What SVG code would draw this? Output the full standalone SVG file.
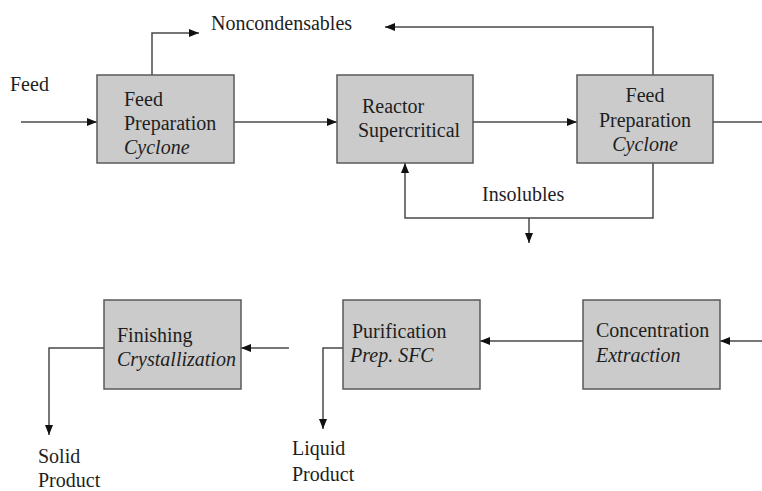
<svg xmlns="http://www.w3.org/2000/svg" width="762" height="491" viewBox="0 0 762 491">
<style>
.box{fill:#cbcbcb;stroke:#5a5a5a;stroke-width:1.5}
.ln{fill:none;stroke:#4a4a4a;stroke-width:1.5}
text{font-family:'Liberation Serif','DejaVu Serif',serif;font-size:20px;fill:#1e1e1e}
.it{font-style:italic}
.c{text-anchor:middle}
</style>
<defs>
<marker id="ah" viewBox="0 0 10 8" refX="10" refY="4" markerWidth="10" markerHeight="8" markerUnits="userSpaceOnUse" orient="auto">
<path d="M0,0 L10,4 L0,8 Z" fill="#111"/>
</marker>
</defs>
<rect width="762" height="491" fill="#fff"/>
<g id="connectors">
<path class="ln" d="M21,122 H97" marker-end="url(#ah)"/>
<path class="ln" d="M152,75 V33 H199" marker-end="url(#ah)"/>
<path class="ln" d="M234,122 H337" marker-end="url(#ah)"/>
<path class="ln" d="M473,122 H577" marker-end="url(#ah)"/>
<path class="ln" d="M713,122 H762"/>
<path class="ln" d="M653,75 V27 H385" marker-end="url(#ah)"/>
<path class="ln" d="M653,163 V218 H405 V163" marker-end="url(#ah)"/>
<path class="ln" d="M529,218 V243" marker-end="url(#ah)"/>
<path class="ln" d="M762,341 H720" marker-end="url(#ah)"/>
<path class="ln" d="M583,341 H480" marker-end="url(#ah)"/>
<path class="ln" d="M343,348 H323 V429" marker-end="url(#ah)"/>
<path class="ln" d="M289,348 H241" marker-end="url(#ah)"/>
<path class="ln" d="M104,348 H49 V435" marker-end="url(#ah)"/>
</g>
<g id="labels">
<text x="10" y="91">Feed</text>
<text x="211" y="30">Noncondensables</text>
<text x="482" y="201">Insolubles</text>
<text x="38" y="463">Solid</text>
<text x="38" y="487">Product</text>
<text x="292" y="455">Liquid</text>
<text x="292" y="481">Product</text>
</g>
<g id="feed-prep-1">
<rect class="box" x="97" y="75" width="137" height="88"/>
<text x="124" y="106">Feed</text>
<text x="124" y="130">Preparation</text>
<text x="124" y="154" class="it">Cyclone</text>
</g>
<g id="reactor">
<rect class="box" x="337" y="75" width="136" height="88"/>
<text x="362" y="113">Reactor</text>
<text x="358" y="137">Supercritical</text>
</g>
<g id="feed-prep-2">
<rect class="box" x="577" y="75" width="136" height="88"/>
<text x="645" y="102" class="c">Feed</text>
<text x="645" y="127" class="c">Preparation</text>
<text x="645" y="151" class="c it">Cyclone</text>
</g>
<g id="finishing">
<rect class="box" x="104" y="300" width="137" height="89"/>
<text x="117" y="342">Finishing</text>
<text x="117" y="366" class="it">Crystallization</text>
</g>
<g id="purification">
<rect class="box" x="343" y="300" width="137" height="89"/>
<text x="352" y="338">Purification</text>
<text x="350" y="362" class="it">Prep. SFC</text>
</g>
<g id="concentration">
<rect class="box" x="583" y="300" width="137" height="89"/>
<text x="596" y="337">Concentration</text>
<text x="596" y="362" class="it">Extraction</text>
</g>
</svg>
